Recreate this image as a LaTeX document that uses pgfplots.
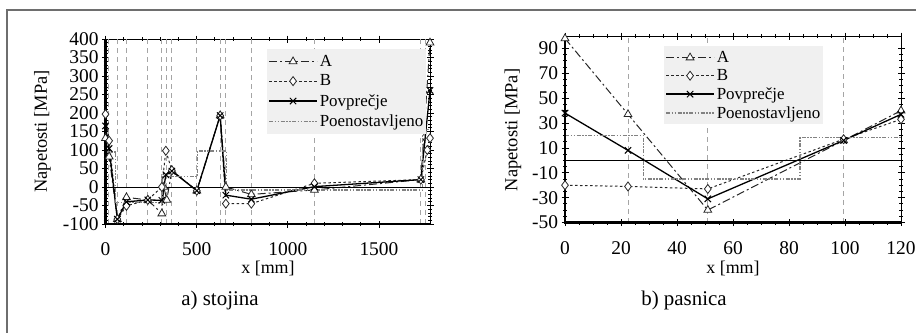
\documentclass[border=0pt]{standalone}
\usepackage{pgfplots}
\pgfplotsset{compat=1.18}
\usepackage{fontspec}
\setmainfont{Liberation Serif}
\definecolor{frameg}{RGB}{110,110,110}
\definecolor{gridg}{RGB}{165,165,165}
\definecolor{poeng}{RGB}{130,130,130}
\definecolor{legg}{RGB}{240,240,240}
\begin{document}
\begin{tikzpicture}
\path[use as bounding box] (0,0) rectangle (916bp,-333bp);
\draw[frameg, line width=1.5bp] (7bp,-333bp) -- (7bp,-10bp) -- (916bp,-10bp);
\pgfplotsset{
  myaxis/.style={
    scale only axis, clip=false,
    axis line style={line width=0.8bp},
    tick align=center,
    major tick length=7bp, minor tick length=4bp,
    every tick/.style={black, line width=0.8bp},
    tick label style={font=\fontsize{19.5}{21}\selectfont},
    /pgf/number format/assume math mode=true,
    /pgf/number format/1000 sep={},
    scaled ticks=false,
    xticklabel style={yshift=-12bp},
    legend cell align=left,
    legend style={draw=none, fill=legg, font=\fontsize{17}{18}\selectfont, inner xsep=1bp},
    legend image code/.code={\draw[mark repeat=2,mark phase=2] plot coordinates {(0bp,0bp) (24bp,0bp) (48bp,0bp)};},
    extra tick style={major tick length=0pt, grid=major, major grid style={color=gridg, dash pattern=on 5bp off 4bp, line width=1bp}},
  },
  serA/.style={black!85, line width=1bp, dash pattern=on 8bp off 3bp on 2bp off 3bp, mark=triangle*, mark size=4.5bp, mark options={solid, fill=white, line width=0.8bp}},
  serB/.style={black!85, line width=1bp, dash pattern=on 2.5bp off 2.5bp, mark=diamond*, mark size=4.5bp, mark options={solid, fill=white, line width=0.8bp}},
  serP/.style={black, line width=1.3bp, mark=x, mark size=4.5bp, mark options={solid, line width=1bp}},
  serS/.style={poeng, line width=1.5bp, dash pattern=on 4bp off 1.5bp on 1.5bp off 1.5bp on 1.5bp off 1.5bp, const plot, no marks},
}
% ---------- left: stojina
\begin{axis}[myaxis, at={(105.5bp,-224bp)}, anchor=south west,
  width=324.5bp, height=185bp,
  xmin=0, xmax=1780, ymin=-100, ymax=400,
  xtick={0,500,1000,1500}, minor x tick num=4,
  ytick={-100,-50,...,400}, minor y tick num=4,
  extra x ticks={15,65,115,232,309,336,364,501,629,660,800,1146,1730,1755},
  extra x tick labels={},
  legend style={at={(0.498,0.946)}, anchor=north west, row sep=3bp, inner ysep=4bp},
]
\addplot[serA] coordinates {(0,132) (20,82) (65,-87) (115,-28) (232,-35) (309,-72) (320,0) (336,-35) (364,45) (501,-10) (629,193) (660,0) (800,-20) (1146,-8) (1730,20) (1780,390)};
\addlegendentry{A}
\addplot[serB] coordinates {(0,197) (20,125) (65,-87) (115,-51) (232,-35) (309,0) (331,98) (364,45) (501,-10) (629,193) (660,-45) (800,-45) (1146,10) (1730,20) (1765,100) (1780,132)};
\addlegendentry{B}
\addplot[serP] coordinates {(0,165) (20,104) (65,-87) (115,-40) (232,-35) (309,-36) (331,33) (364,43) (501,-10) (629,193) (660,-22) (800,-33) (1146,1) (1730,20) (1780,261)};
\addlegendentry{Povprečje}
\addplot[serS] coordinates {(0,95) (55,-42) (311,28) (505,97) (665,-8) (1740,155) (1780,155)};
\addlegendentry{Poenostavljeno}
\addplot[black, line width=0.8bp, forget plot] coordinates {(0,0) (1780,0)};
\draw[line width=2.2bp] (rel axis cs:0,1) -- (rel axis cs:0,0) -- (rel axis cs:1,0);
\end{axis}
% ---------- right: pasnica
\begin{axis}[myaxis, at={(565bp,-222.5bp)}, anchor=south west,
  width=336bp, height=186.5bp,
  xmin=0, xmax=120, ymin=-50, ymax=100,
  xtick={0,20,...,120}, minor x tick num=3,
  ytick={-50,-30,...,90}, minor y tick num=3,
  extra x ticks={22.5,51,99.5},
  extra x tick labels={},
  legend style={at={(0.295,0.946)}, anchor=north west, row sep=1.5bp, inner ysep=3bp},
]
\addplot[serA] coordinates {(0,98) (22.5,37) (51,-40) (99.5,16) (120,40)};
\addlegendentry{A}
\addplot[serB] coordinates {(0,-20) (22.5,-21) (51,-23) (99.5,17) (120,33)};
\addlegendentry{B}
\addplot[serP] coordinates {(0,38) (22.5,8) (51,-31) (99.5,16) (120,37)};
\addlegendentry{Povprečje}
\addplot[serS] coordinates {(0,20) (28,-15) (84,18.5) (120,18.5)};
\addlegendentry{Poenostavljeno}
\addplot[black, line width=0.8bp, forget plot] coordinates {(0,0) (120,0)};
\draw[line width=2.2bp] (rel axis cs:0,1) -- (rel axis cs:0,0) -- (rel axis cs:1,0);
\end{axis}
% ---------- titles
\node[rotate=90, font=\fontsize{18.5}{20}\selectfont] at (42.5bp,-131.5bp) {Napetosti [MPa]};
\node[rotate=90, font=\fontsize{18.5}{20}\selectfont] at (513bp,-130bp) {Napetosti [MPa]};
\node[font=\fontsize{18}{20}\selectfont] at (268bp,-268bp) {x [mm]};
\node[font=\fontsize{18}{20}\selectfont] at (733bp,-268bp) {x [mm]};
\node[font=\fontsize{21}{23}\selectfont] at (220bp,-300bp) {a) stojina};
\node[font=\fontsize{21}{23}\selectfont] at (684bp,-300bp) {b) pasnica};
\end{tikzpicture}
\end{document}
